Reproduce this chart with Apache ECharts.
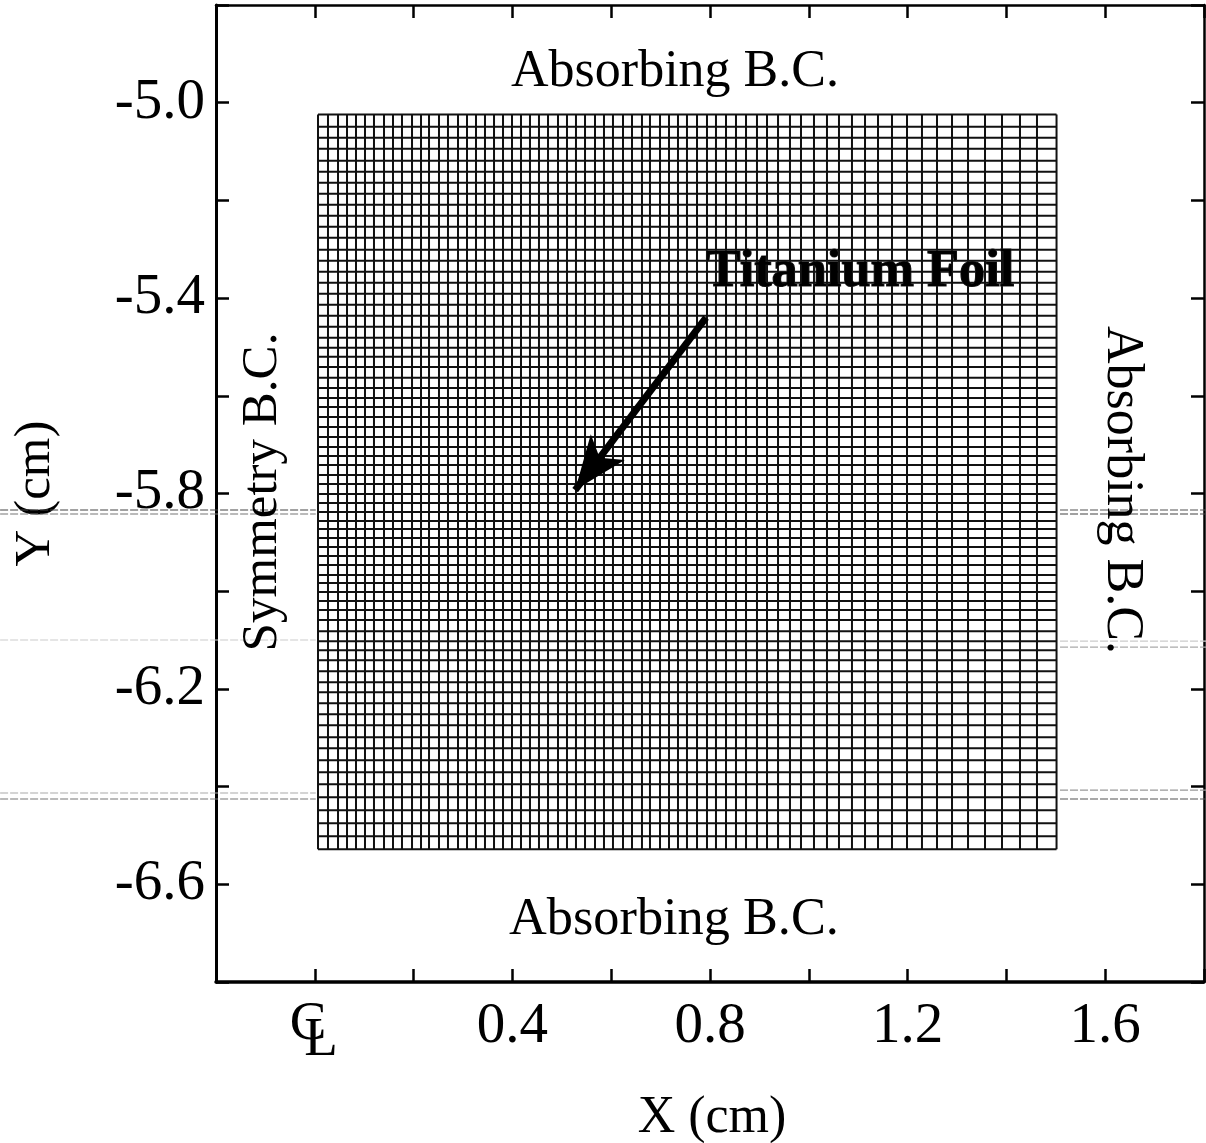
<!DOCTYPE html>
<html>
<head>
<meta charset="utf-8">
<style>html,body{margin:0;padding:0;background:#fff}#chart{width:1206px;height:1143px}</style>
<script src="https://cdn.jsdelivr.net/npm/echarts@6/dist/echarts.min.js"></script>
</head>
<body>
<div id="chart"></div>
<script>
// Mesh line positions (cm)
var meshX = [0.0065,0.0267,0.0470,0.0652,0.0834,0.1016,0.1198,0.1401,0.1583,0.1765,0.1968,0.2150,0.2312,0.2514,0.2696,0.2899,0.3081,0.3263,0.3445,0.3628,0.3810,0.3992,0.4174,0.4356,0.4538,0.4721,0.4923,0.5105,0.5287,0.5470,0.5672,0.5854,0.6036,0.6239,0.6421,0.6623,0.6785,0.6988,0.7170,0.7352,0.7534,0.7737,0.7939,0.8121,0.8324,0.8526,0.8729,0.8951,0.9154,0.9377,0.9619,0.9842,1.0105,1.0368,1.0611,1.0874,1.1138,1.1401,1.1684,1.1988,1.2291,1.2595,1.2899,1.3223,1.3567,1.3911,1.4275,1.4619,1.5015];
var meshY = [-5.0244,-5.0490,-5.0715,-5.0941,-5.1186,-5.1412,-5.1637,-5.1863,-5.2088,-5.2314,-5.2539,-5.2764,-5.3010,-5.3236,-5.3461,-5.3686,-5.3912,-5.4137,-5.4363,-5.4588,-5.4814,-5.5018,-5.5203,-5.5408,-5.5633,-5.5838,-5.6043,-5.6227,-5.6432,-5.6637,-5.6842,-5.7047,-5.7232,-5.7416,-5.7621,-5.7805,-5.8010,-5.8195,-5.8379,-5.8564,-5.8727,-5.8912,-5.9096,-5.9281,-5.9465,-5.9670,-5.9834,-6.0018,-6.0203,-6.0387,-6.0592,-6.0818,-6.1023,-6.1207,-6.1412,-6.1637,-6.1863,-6.2068,-6.2293,-6.2518,-6.2744,-6.2990,-6.3215,-6.3461,-6.3707,-6.3953,-6.4219,-6.4486,-6.4752,-6.5018,-6.5285];
var xTickLabels = ['0.4','0.8','1.2','1.6'];
var yTickLabels = ['-5.0','-5.4','-5.8','-6.2','-6.6'];
// Arrow: tail then tip (cm)
var arrowTail = [0.792,-5.440];
var arrowTip = [0.527,-5.793];
// Faint scan streaks outside the mesh: [xStart, xEnd, y, colour]
var streaks = [
  [-0.637,0.002,-5.8338,'#444'],[-0.637,0.002,-5.8420,'#777'],
  [1.5085,1.805,-5.8338,'#555'],[1.5085,1.805,-5.8420,'#444'],
  [-0.637,0.002,-6.1002,'#ccc'],[1.5085,1.805,-6.1023,'#ccc'],[1.5085,1.805,-6.1146,'#aaa'],
  [-0.637,0.002,-6.4137,'#aaa'],[-0.637,0.002,-6.4260,'#777'],
  [1.5085,1.805,-6.4076,'#999'],[1.5085,1.805,-6.4260,'#555']
];

var FONT = '"Liberation Serif","Times New Roman",serif';
var series = [];
var yTop = meshY[0], yBot = meshY[meshY.length-1];
var xL = meshX[0], xR = meshX[meshX.length-1];
function seg(a,b,w,c,extra){
  var s = {type:'line',data:[a,b],symbol:'none',silent:true,animation:false,
    lineStyle:{color:c,width:w},z:2};
  for(var k in extra||{}) s[k]=extra[k];
  return s;
}
meshX.forEach(function(x){series.push(seg([x,yTop],[x,yBot],2,'#111'));});
meshY.forEach(function(y){series.push(seg([xL,y],[xR,y],2,'#111'));});
streaks.forEach(function(t){
  series.push(seg([t[0],t[2]],[t[1],t[2]],1.2,t[3],{xAxisIndex:2,yAxisIndex:2,z:1}));
  series[series.length-1].lineStyle.type=[8,2];
});
series.push({type:'line',data:[],silent:true,animation:false,z:5,
  markLine:{silent:true,animation:false,symbol:['none','arrow'],symbolSize:[32,54],
    label:{show:false},lineStyle:{color:'#000',width:7,type:'solid'},
    data:[[{coord:arrowTail},{coord:arrowTip}]]}});

function baseX(show,w){return {type:'value',min:-0.2,max:1.8,interval:0.2,position:show?'bottom':'top',
  axisLine:{show:true,onZero:false,lineStyle:{color:'#000',width:w}},
  axisTick:{show:true,inside:true,length:13,lineStyle:{color:'#000',width:2.5}},
  splitLine:{show:false},
  axisLabel:{show:show,fontFamily:FONT,fontSize:57,color:'#000',margin:17,
    showMinLabel:true,showMaxLabel:true,hideOverlap:false,
    formatter:function(v){var s=v.toFixed(1);return xTickLabels.indexOf(s)>=0?s:'';}}};}
function baseY(show,w){return {type:'value',min:-6.8,max:-4.8,interval:0.2,position:show?'left':'right',
  axisLine:{show:true,onZero:false,lineStyle:{color:'#000',width:w}},
  axisTick:{show:true,inside:true,length:13,lineStyle:{color:'#000',width:2.5}},
  splitLine:{show:false},
  axisLabel:{show:show,fontFamily:FONT,fontSize:57,color:'#000',margin:11,hideOverlap:false,
    formatter:function(v){var s=v.toFixed(1);return yTickLabels.indexOf(s)>=0?s:'';}}};}
var xA = baseX(true,3.5);
xA.name='X (cm)';xA.nameLocation='middle';xA.nameGap=110;
xA.nameTextStyle={fontFamily:FONT,fontSize:52,color:'#000',padding:[0,0,0,4]};
var yA = baseY(true,3);
yA.name='Y (cm)';yA.nameLocation='middle';yA.nameGap=155;
yA.nameTextStyle={fontFamily:FONT,fontSize:51,color:'#000'};

function txt(s,x,y,size,rot,extra){
  var st={text:s,fontFamily:FONT,fontSize:size,fill:'#000',align:'center',verticalAlign:'middle'};
  for(var k in extra||{}) st[k]=extra[k];
  return {type:'text',x:x,y:y,rotation:rot||0,z:20,silent:true,style:st};
}
var chart = echarts.init(document.getElementById('chart'),null,{renderer:'canvas'});
chart.setOption({
  backgroundColor:'#fff',animation:false,
  grid:[{left:216,right:2,top:5,bottom:161,containLabel:false,outerBoundsMode:'none'},
        {left:0,right:0,top:0,bottom:0,containLabel:false,outerBoundsMode:'none'}],
  xAxis:[xA,baseX(false,2.5),
    {type:'value',gridIndex:1,show:false,min:-0.6372,max:1.8040}],
  yAxis:[yA,baseY(false,2.5),
    {type:'value',gridIndex:1,show:false,min:-7.1309,max:-4.7887}],
  series:series,
  graphic:[
    txt('Absorbing B.C.',675,72,52),
    txt('Absorbing B.C.',674,920,52.3),
    txt('Symmetry B.C.',263,492,51,Math.PI/2),
    txt('Absorbing B.C.',1122,490,52,-Math.PI/2),
    txt('Titanium Foil',860,272,52.3,0,{fontWeight:'bold',stroke:'#222',lineWidth:1.2}),
    txt('C',308,1025,55),
    txt('L',321,1041,55)
  ]
});
</script>
</body>
</html>
